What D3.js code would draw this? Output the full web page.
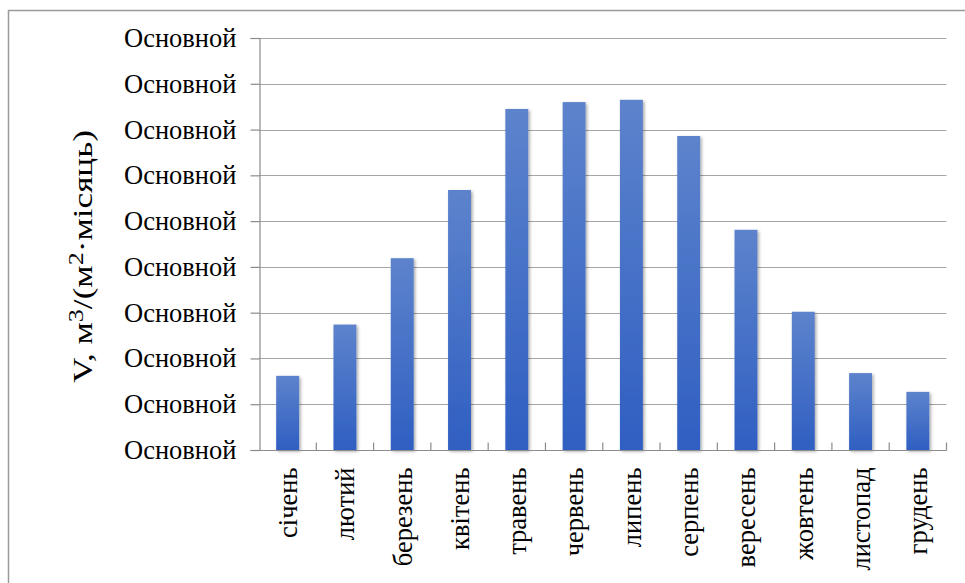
<!DOCTYPE html>
<html><head><meta charset="utf-8">
<script src="https://cdn.jsdelivr.net/npm/d3@7"></script>
<style>html,body{margin:0;padding:0;background:#fff;}svg{display:block;}</style>
</head><body>
<script>
const categories = ["січень","лютий","березень","квітень","травень","червень","липень","серпень","вересень","жовтень","листопад","грудень"];
const values = [1.62, 2.74, 4.19, 5.68, 7.45, 7.60, 7.65, 6.86, 4.81, 3.02, 1.68, 1.27];
const tickValues = [0,1,2,3,4,5,6,7,8,9];
const tickLabels = ["Основной","Основной","Основной","Основной","Основной","Основной","Основной","Основной","Основной","Основной"];
const yTitleParts = [["V, м",false],["3",true],["/(м",false],["2",true],["·місяць)",false]];

const FONT = "'Liberation Serif','Times New Roman',serif";
const W = 965, H = 583;
const m = {left: 259, right: 965-946.5, top: 38, bottom: 583-450};
const svg = d3.select("body").append("svg").attr("width", W).attr("height", H);

const defs = svg.append("defs");
const grad = defs.append("linearGradient").attr("id","barGrad").attr("x1",0).attr("y1",0).attr("x2",0).attr("y2",1);
grad.append("stop").attr("offset","0%").attr("stop-color","#5d83cc");
grad.append("stop").attr("offset","100%").attr("stop-color","#2f5fc2");
const f = defs.append("filter").attr("id","shadow").attr("x","-20%").attr("y","-5%").attr("width","150%").attr("height","115%");
f.append("feDropShadow").attr("dx",1.5).attr("dy",1.5).attr("stdDeviation",1.5).attr("flood-color","#000").attr("flood-opacity",0.35);

// outer border
svg.append("rect").attr("x",8.5).attr("y",10.5).attr("width",W).attr("height",H).attr("fill","none").attr("stroke","#9a9a9a").attr("stroke-width",1.5);

const x = d3.scaleBand().domain(categories).range([m.left, W-m.right]).paddingInner(0.6).paddingOuter(0.3);
const xb = d3.scaleBand().domain(categories).range([m.left, W-m.right]);
const y = d3.scaleLinear().domain([0,9]).range([H-m.bottom, m.top]);

// gridlines
svg.append("g").selectAll("line").data(tickValues.slice(1)).join("line")
  .attr("x1", m.left).attr("x2", W-m.right)
  .attr("y1", d=>Math.round(y(d))+0.5).attr("y2", d=>Math.round(y(d))+0.5)
  .attr("stroke","#a6a6a6").attr("stroke-width",1.2);

// y axis
const yAxis = d3.axisLeft(y).tickValues(tickValues).tickSize(9).tickPadding(14)
  .tickFormat((d,i)=>tickLabels[i]);
const gy = svg.append("g").attr("transform",`translate(${m.left+0.5},0)`).call(yAxis);
gy.select(".domain").attr("stroke","#8c8c8c").attr("stroke-width",1.2);
gy.selectAll(".tick line").attr("stroke","#8c8c8c").attr("stroke-width",1.2);
gy.selectAll(".tick text").attr("font-family",FONT).attr("font-size",26.5).attr("fill","#000").attr("dy","0.32em");

// bars
svg.append("g").selectAll("rect").data(values).join("rect")
  .attr("x",(d,i)=>x(categories[i])).attr("width",x.bandwidth())
  .attr("y",d=>y(d)).attr("height",d=>y(0)-y(d))
  .attr("fill","url(#barGrad)").attr("filter","url(#shadow)");

// x axis
const gx = svg.append("g").attr("transform",`translate(0,${y(0)+0.5})`);
gx.append("line").attr("x1",m.left).attr("x2",W-m.right).attr("stroke","#8c8c8c").attr("stroke-width",1.2);
const bounds = categories.map(c=>xb(c)).concat([W-m.right]);
gx.selectAll("line.t").data(bounds.slice(1)).join("line").attr("class","t")
  .attr("x1",d=>d).attr("x2",d=>d).attr("y1",0).attr("y2",-8).attr("stroke","#8c8c8c").attr("stroke-width",1.2);
gx.selectAll("text").data(categories).join("text")
  .attr("transform",d=>`translate(${xb(d)+xb.bandwidth()/2},17) rotate(-90)`)
  .attr("text-anchor","end").attr("dy","0.35em")
  .attr("font-family",FONT).attr("font-size",26.5).attr("fill","#000")
  .text(d=>d);

// y title
const t = svg.append("text").attr("transform",`translate(92,256.5) rotate(-90)`)
  .attr("text-anchor","middle")
  .attr("font-family",FONT).attr("font-size",27).attr("fill","#000")
  .attr("textLength",253).attr("lengthAdjust","spacingAndGlyphs");
yTitleParts.forEach(([s,sup])=>{
  t.append("tspan").attr("font-size", sup?20:27).attr("baseline-shift", sup?"9":"0").text(s);
});
</script>
</body></html>
